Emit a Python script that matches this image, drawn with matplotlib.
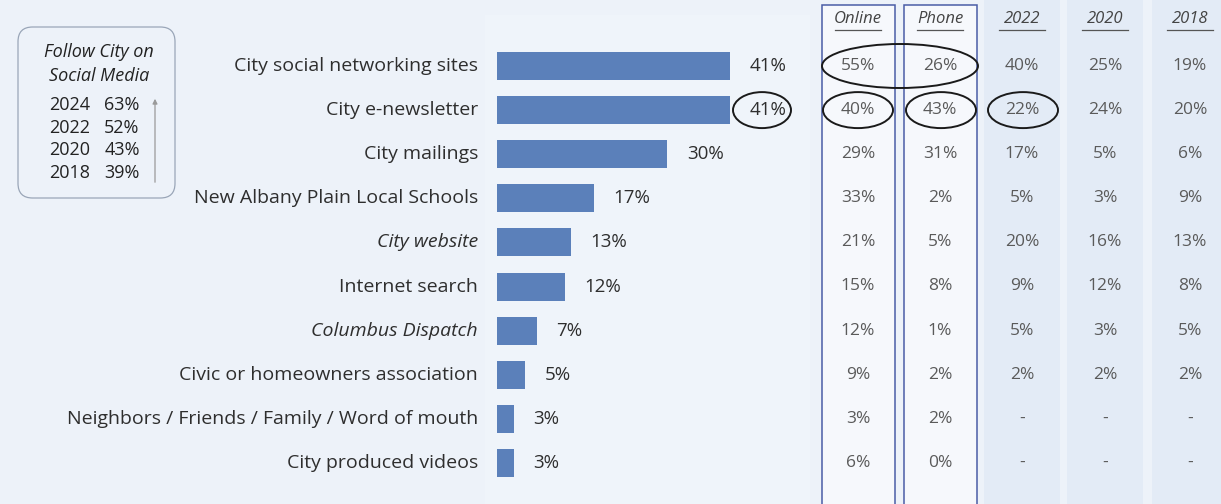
import matplotlib.pyplot as plt
from matplotlib.patches import Ellipse, FancyBboxPatch, Rectangle

# ---- data ----
categories = [
    "City social networking sites",
    "City e-newsletter",
    "City mailings",
    "New Albany Plain Local Schools",
    "City website",
    "Internet search",
    "Columbus Dispatch",
    "Civic or homeowners association",
    "Neighbors / Friends / Family / Word of mouth",
    "City produced videos",
]
italic_cats = {"City website", "Columbus Dispatch"}
values_2024 = [41, 41, 30, 17, 13, 12, 7, 5, 3, 3]

col_headers = ["Online", "Phone", "2022", "2020", "2018"]
online = ["55%", "40%", "29%", "33%", "21%", "15%", "12%", "9%", "3%", "6%"]
phone = ["26%", "43%", "31%", "2%", "5%", "8%", "1%", "2%", "2%", "0%"]
y2022 = ["40%", "22%", "17%", "5%", "20%", "9%", "5%", "2%", "-", "-"]
y2020 = ["25%", "24%", "5%", "3%", "16%", "12%", "3%", "2%", "-", "-"]
y2018 = ["19%", "20%", "6%", "9%", "13%", "8%", "5%", "2%", "-", "-"]
table_cols = [online, phone, y2022, y2020, y2018]

social_years = ["2024", "2022", "2020", "2018"]
social_pct = ["63%", "52%", "43%", "39%"]

# ---- layout ----
W, H = 1221, 504
row0, row_h = 66, 44.1
ytop, ybot = -row0 / row_h, (H - row0) / row_h
bar_x0, px_per_pct = 497, 5.68
col_x = [858, 940, 1022, 1105, 1190]

bg = "#edf2f9"
bar_color = "#5b80ba"
text_color = "#2e2e2e"
val_color = "#5a5a5a"
frame_color = "#4a5da6"

plt.rcParams["font.family"] = ["Open Sans", "DejaVu Sans"]

fig = plt.figure(figsize=(W / 100, H / 100), dpi=100, facecolor=bg)
ax = fig.add_axes([0, 0, 1, 1])
ax.set_xlim(0, W)
ax.set_ylim(ybot, ytop)
ax.axis("off")

# shaded year columns and framed Online / Phone columns
for cx in col_x[2:]:
    ax.add_patch(Rectangle((cx - 38, ytop), 76, ybot - ytop, facecolor="#e3ebf6",
                           edgecolor="none", zorder=0))
for cx in col_x[:2]:
    ax.add_patch(Rectangle((cx - 36, (5 - row0) / row_h), 73, ybot - ytop,
                           facecolor="#f6f8fc", edgecolor=frame_color, lw=1.1, zorder=1))
# faint panel behind bars
ax.add_patch(Rectangle((485, (15 - row0) / row_h), 325, ybot - ytop,
                       facecolor="#eff4fa", edgecolor="none", zorder=0))

# bars in their own axes (x in percent)
bx = fig.add_axes([bar_x0 / W, 0, 50 * px_per_pct / W, 1])
bx.set_xlim(0, 50)
bx.set_ylim(ybot, ytop)
bx.axis("off")
ypos = list(range(len(categories)))
bx.barh(ypos, values_2024, height=28 / row_h, color=bar_color, zorder=2)
for i, v in enumerate(values_2024):
    bx.text(v + 3.4, i, f"{v}%", va="center", ha="left", fontsize=13.5, color=text_color)

# category labels
for i, c in enumerate(categories):
    ax.text(478, i, c, ha="right", va="center", fontsize=14, color=text_color,
            style="italic" if c in italic_cats else "normal")

# table headers and values
for cx, head, vals in zip(col_x, col_headers, table_cols):
    ax.text(cx, (19 - row0) / row_h, head, ha="center", va="center",
            fontsize=12, style="italic", color="#444444")
    ax.plot([cx - 23, cx + 23], [(30 - row0) / row_h] * 2, color="#555555", lw=0.9)
    for i, v in enumerate(vals):
        ax.text(cx, i, v, ha="center", va="center", fontsize=12.5, color=val_color)

# hand-drawn ellipses
ell = dict(fill=False, edgecolor="#1a1a1a", lw=1.4, zorder=5)
ax.add_patch(Ellipse((900, 0), 156, 44 / row_h, **ell))
ax.add_patch(Ellipse((762, 1), 58, 36 / row_h, **ell))
ax.add_patch(Ellipse((858, 1), 70, 36 / row_h, **ell))
ax.add_patch(Ellipse((941, 1), 70, 36 / row_h, **ell))
ax.add_patch(Ellipse((1023, 1), 70, 36 / row_h, **ell))

# inset box: follow city on social media
box = FancyBboxPatch((18 / W, 1 - 198 / H), 157 / W, 171 / H, transform=fig.transFigure,
                     boxstyle="round,pad=0,rounding_size=0.012", mutation_aspect=W / H,
                     facecolor="none", edgecolor="#9aa6b8", lw=0.9, zorder=3)
fig.patches.append(box)
fig.text(99 / W, 1 - 52 / H, "Follow City on", ha="center", va="center",
         fontsize=13, style="italic", color="#222222")
fig.text(99 / W, 1 - 76 / H, "Social Media", ha="center", va="center",
         fontsize=13, style="italic", color="#222222")
for k, (yr, pc) in enumerate(zip(social_years, social_pct)):
    yy = 1 - (105 + 22.7 * k) / H
    fig.text(70 / W, yy, yr, ha="center", va="center", fontsize=13, color="#222222")
    fig.text(122 / W, yy, pc, ha="center", va="center", fontsize=13, color="#222222")
ax.annotate("", xy=(155, (96 - row0) / row_h), xytext=(155, (185 - row0) / row_h),
            arrowprops=dict(arrowstyle="-|>", color="#9a9a9a", lw=0.9, mutation_scale=7),
            zorder=6)

fig.savefig("out.png", dpi=100, facecolor=bg)
